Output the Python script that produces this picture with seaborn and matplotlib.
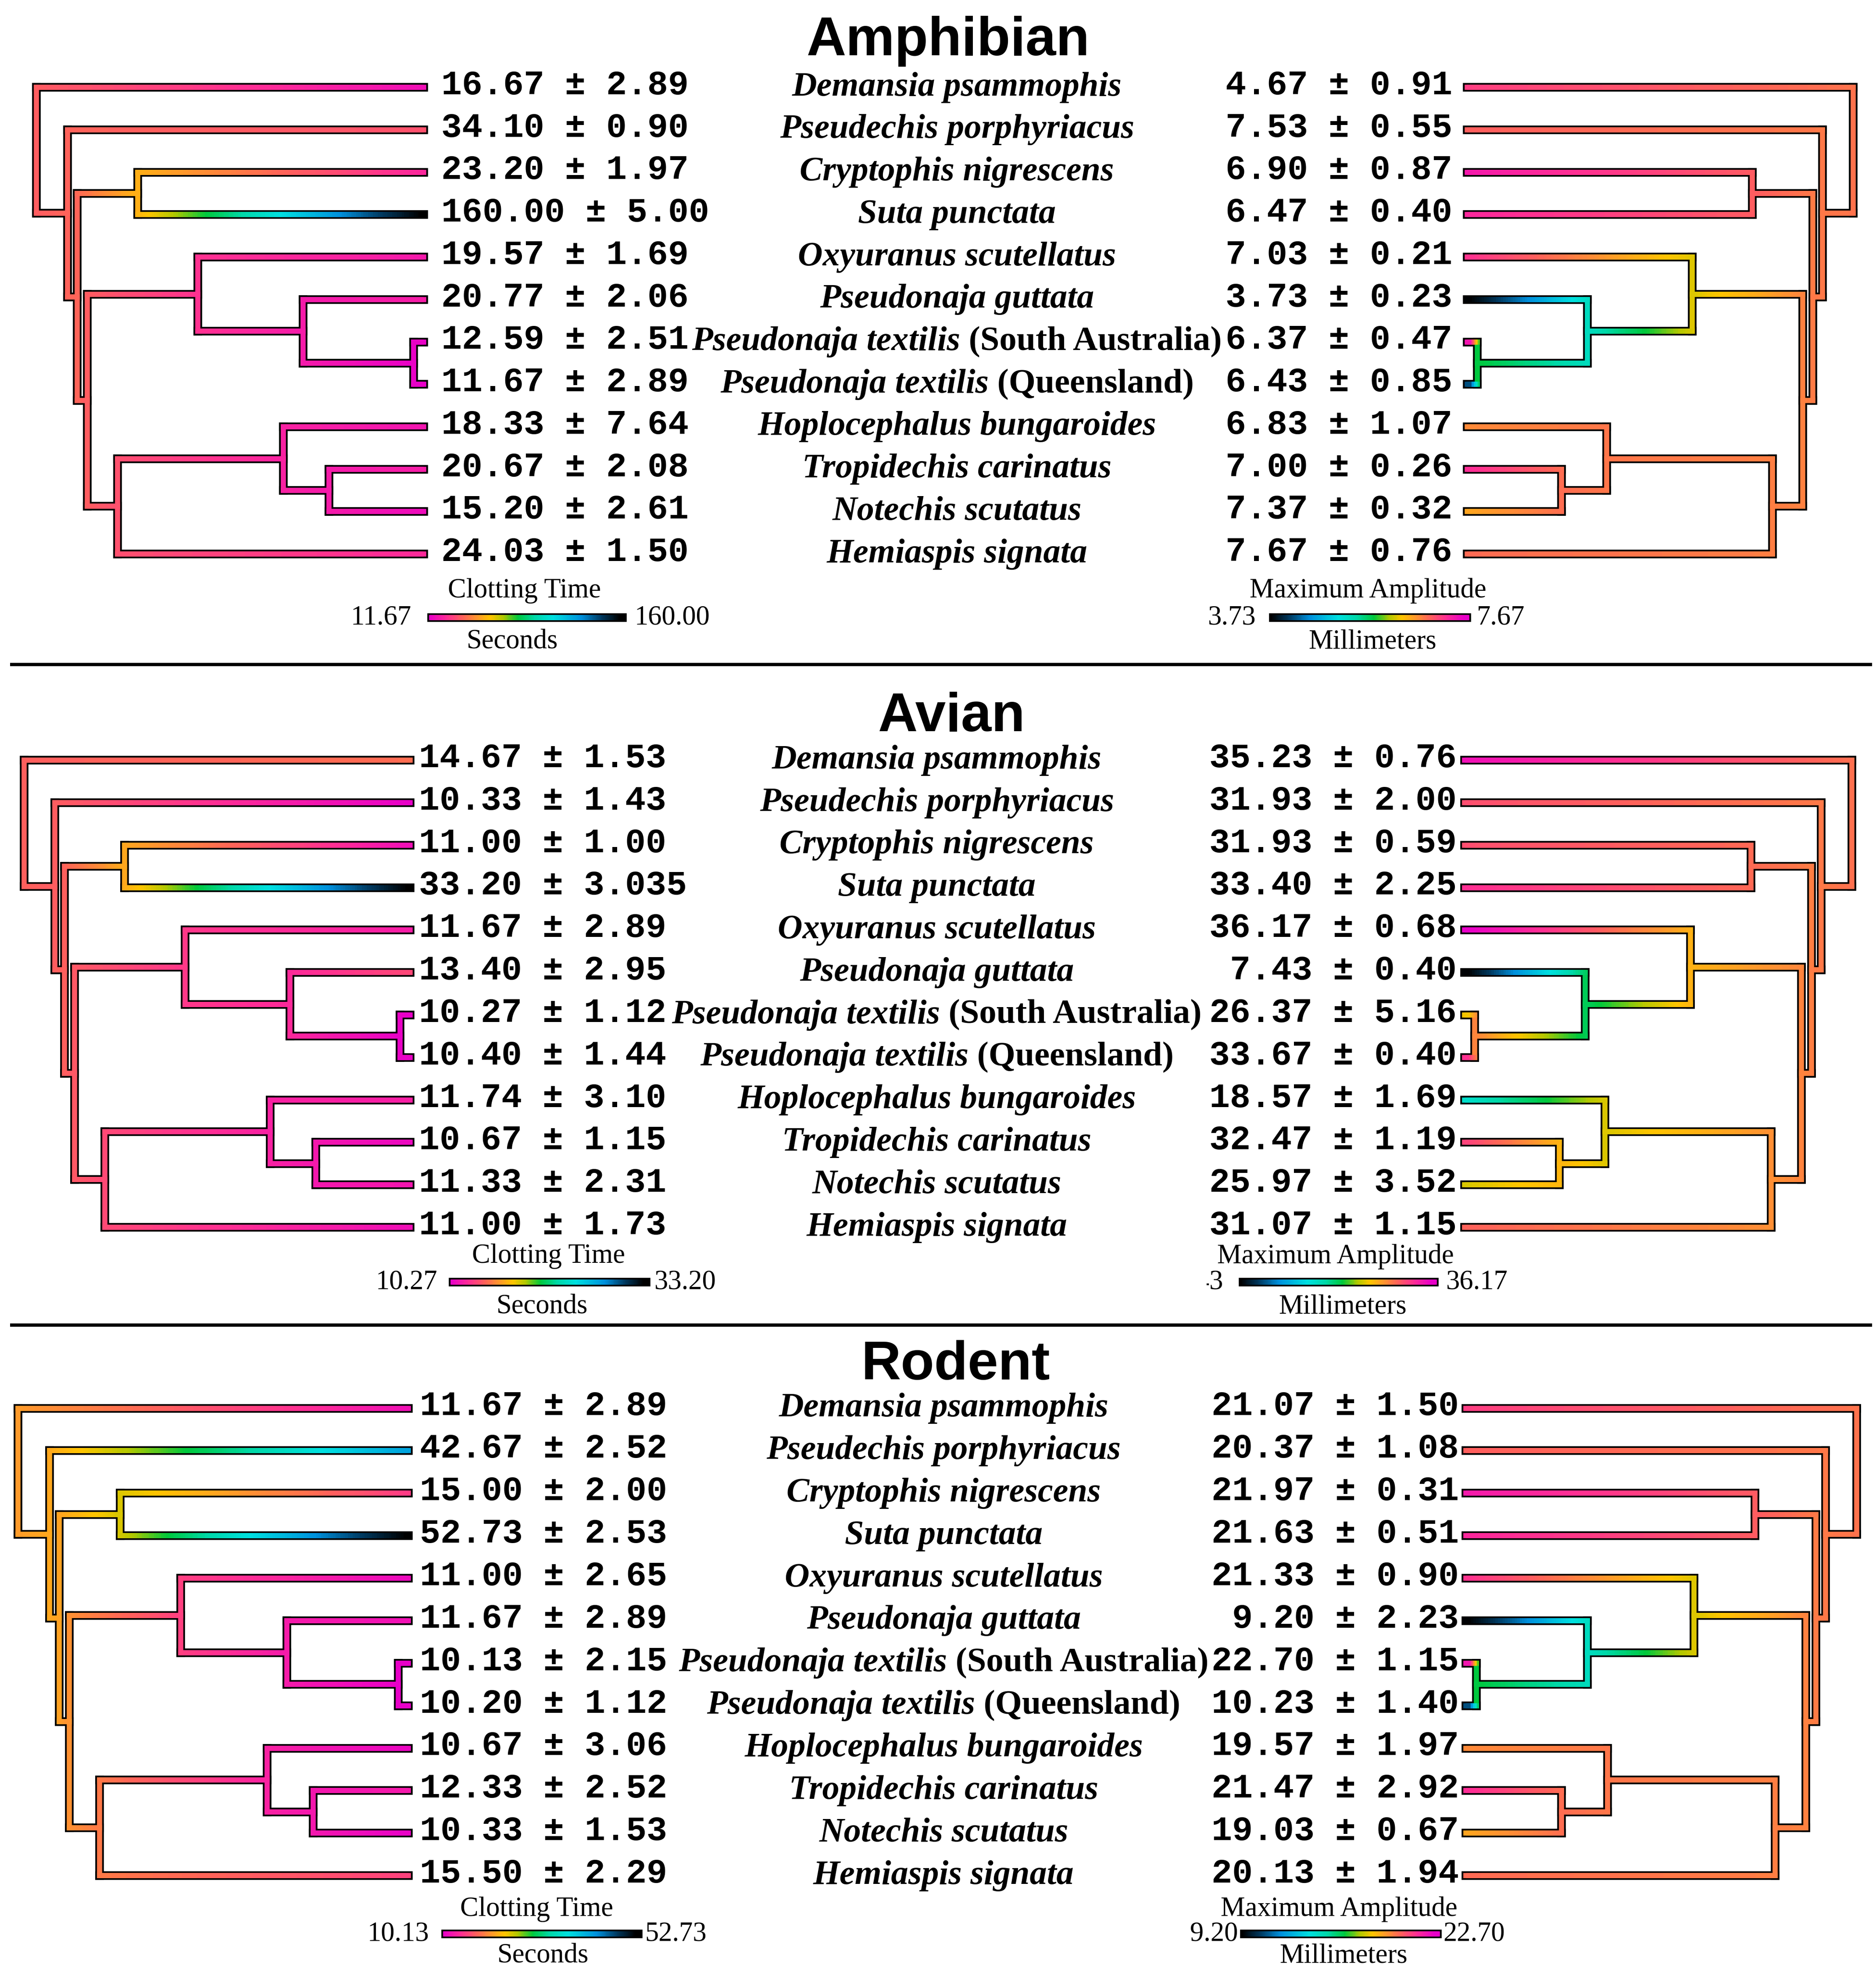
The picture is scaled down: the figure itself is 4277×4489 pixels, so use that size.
import numpy as np
import pandas as pd
import matplotlib
matplotlib.use("Agg")
import matplotlib.pyplot as plt
import seaborn as sns
from matplotlib.collections import LineCollection
from matplotlib.colors import LinearSegmentedColormap
from matplotlib.offsetbox import TextArea, HPacker, AnnotationBbox
from matplotlib.transforms import Bbox, TransformedBbox

# ---------------------------------------------------------------- data
species = ["Demansia psammophis", "Pseudechis porphyriacus", "Cryptophis nigrescens",
           "Suta punctata", "Oxyuranus scutellatus", "Pseudonaja guttata",
           "Pseudonaja textilis (South Australia)", "Pseudonaja textilis (Queensland)",
           "Hoplocephalus bungaroides", "Tropidechis carinatus", "Notechis scutatus",
           "Hemiaspis signata"]

# tree: internal nodes 12..22 (children pairs) and their relative ages (root = 1)
node_children = [(0, 13), (1, 14), (15, 16), (2, 3), (17, 20), (4, 18),
                 (5, 19), (6, 7), (21, 11), (8, 22), (9, 10)]
node_age = [1.000, 0.920, 0.895, 0.739, 0.869, 0.583, 0.311, 0.026, 0.791, 0.362, 0.244]

amph_ct_mean = [16.67, 34.10, 23.20, 160.00, 19.57, 20.77, 12.59, 11.67, 18.33, 20.67, 15.20, 24.03]
amph_ct_sd = [2.89, 0.90, 1.97, 5.00, 1.69, 2.06, 2.51, 2.89, 7.64, 2.08, 2.61, 1.50]
amph_ma_mean = [4.67, 7.53, 6.90, 6.47, 7.03, 3.73, 6.37, 6.43, 6.83, 7.00, 7.37, 7.67]
amph_ma_sd = [0.91, 0.55, 0.87, 0.40, 0.21, 0.23, 0.47, 0.85, 1.07, 0.26, 0.32, 0.76]

avian_ct_mean = [14.67, 10.33, 11.00, 33.20, 11.67, 13.40, 10.27, 10.40, 11.74, 10.67, 11.33, 11.00]
avian_ct_sd = [1.53, 1.43, 1.00, 3.035, 2.89, 2.95, 1.12, 1.44, 3.10, 1.15, 2.31, 1.73]
avian_ma_mean = [35.23, 31.93, 31.93, 33.40, 36.17, 7.43, 26.37, 33.67, 18.57, 32.47, 25.97, 31.07]
avian_ma_sd = [0.76, 2.00, 0.59, 2.25, 0.68, 0.40, 5.16, 0.40, 1.69, 1.19, 3.52, 1.15]

rodent_ct_mean = [11.67, 42.67, 15.00, 52.73, 11.00, 11.67, 10.13, 10.20, 10.67, 12.33, 10.33, 15.50]
rodent_ct_sd = [2.89, 2.52, 2.00, 2.53, 2.65, 2.89, 2.15, 1.12, 3.06, 2.52, 1.53, 2.29]
rodent_ma_mean = [21.07, 20.37, 21.97, 21.63, 21.33, 9.20, 22.70, 10.23, 19.57, 21.47, 19.03, 20.13]
rodent_ma_sd = [1.50, 1.08, 0.31, 0.51, 0.90, 2.23, 1.15, 1.40, 1.97, 2.92, 0.67, 1.94]

panel_titles = ["Amphibian", "Avian", "Rodent"]
ct_title, ct_unit = "Clotting Time", "Seconds"
ma_title, ma_unit = "Maximum Amplitude", "Millimeters"

# ---------------------------------------------------------------- style
sns.set_theme(style="white")
plt.rcParams["font.family"] = ["DejaVu Sans"]
plt.rcParams["text.color"] = "black"
MONO, SERIF, SANS = "Liberation Mono", "Liberation Serif", "Liberation Sans"

cmap_ct = LinearSegmentedColormap.from_list("ct", [
    (0.00, "#e800c8"), (0.095, "#ff2f92"), (0.18, "#ff6458"), (0.255, "#ff9a2a"),
    (0.32, "#ffc400"), (0.385, "#b4c800"), (0.465, "#00c83c"), (0.555, "#00d8a8"),
    (0.65, "#00e0e0"), (0.80, "#0090dc"), (0.90, "#003c64"), (1.00, "#000000")])
cmap_ma = cmap_ct.reversed()

W = 1488.0
H = 4489 * W / 4277
PT = 72.0 * (4277 / W) / 300.0        # points per layout pixel
LW_OUT, LW_IN = 4.7, 2.8

fig = plt.figure(figsize=(4277 / 300, 4489 / 300), dpi=300)
bg = fig.add_axes([0, 0, 1, 1])
bg.set_xlim(0, W)
bg.set_ylim(H, 0)
bg.axis("off")


def fx(x):
    return x / W


def fy(y):
    return 1 - y / H


def pm(m, s):
    sd = f"{s:.3f}".rstrip("0")
    if len(sd.split(".")[1]) < 2:
        sd = f"{s:.2f}"
    return f"{m:.2f} \u00b1 {sd}"


def anc_states(tips):
    """Brownian-motion ancestral states (as in phytools contMap)."""
    age = np.zeros(23)
    age[12:] = node_age
    A = np.zeros((11, 11))
    b = np.zeros(11)
    for k, ch in enumerate(node_children):
        p = 12 + k
        for c in ch:
            w = 1.0 / (age[p] - age[c])
            A[k, k] += w
            if c >= 12:
                A[k, c - 12] -= w
                A[c - 12, c - 12] += w
                A[c - 12, k] -= w
            else:
                b[k] += w * tips[c]
    return np.concatenate([np.asarray(tips, float), np.linalg.solve(A, b)])


def seg_frame(segs):
    rows = []
    for k, (p0, p1, v) in enumerate(segs):
        rows.append((k, p0[0], p0[1], v))
        rows.append((k, p1[0], p1[1], v))
    return pd.DataFrame(rows, columns=["seg", "x", "y", "val"])


def draw_tree(rect, tips, cmap, mirrored):
    ax = fig.add_axes(rect)
    states = anc_states(tips)
    lo, hi = min(tips), max(tips)
    s = (states - lo) / (hi - lo)
    age = np.zeros(23)
    age[12:] = node_age
    ypos = np.zeros(23)
    ypos[:12] = np.arange(12)
    for k in range(10, -1, -1):
        c1, c2 = node_children[k]
        ypos[12 + k] = (ypos[c1] + ypos[c2]) / 2
    verts, hors = [], []
    for k, (c1, c2) in enumerate(node_children):
        p = 12 + k
        verts.append(((age[p], ypos[c1]), (age[p], ypos[c2]), s[p]))
        for c in (c1, c2):
            hors.append((p, c))
    outline = [(a, b, 0) for a, b, _ in verts] + \
              [((age[p], ypos[c]), (age[c], ypos[c]), 0) for p, c in hors]
    sns.lineplot(data=seg_frame(outline), x="x", y="y", units="seg", estimator=None,
                 sort=False, color="black", linewidth=LW_OUT, solid_capstyle="projecting",
                 ax=ax, legend=False, zorder=1)
    sns.lineplot(data=seg_frame(verts), x="x", y="y", units="seg", hue="val",
                 palette=cmap, hue_norm=(0, 1), estimator=None, sort=False,
                 linewidth=LW_IN, solid_capstyle="projecting", ax=ax, legend=False, zorder=2)
    segs, cols = [], []
    for p, c in hors:
        L = age[p] - age[c]
        n = max(3, int(np.ceil(L * 160)))
        t = np.linspace(0, 1, n + 1)
        xs = age[p] + (age[c] - age[p]) * t
        tm = (t[:-1] + t[1:]) / 2
        vals = s[p] + (s[c] - s[p]) * tm
        for i in range(n):
            segs.append([(xs[i], ypos[c]), (xs[i + 1], ypos[c])])
            cols.append(cmap(np.clip(vals[i], 0, 1)))
    ax.add_collection(LineCollection(segs, colors=cols, linewidths=LW_IN,
                                     capstyle="projecting", zorder=3))
    for art in ax.get_children():
        try:
            art.set_clip_on(False)
        except Exception:
            pass
    ax.set_xlim((0, 1) if mirrored else (1, 0))
    ax.set_ylim(11, 0)
    ax.axis("off")


def draw_bar(x1, x2, yb, lo, hi, cmap, title, tpos, unit, upos, lo_r, hi_l, clip=None):
    half = LW_OUT / 2 / PT
    ax = fig.add_axes([fx(x1 + half), fy(yb) - 0.001, (x2 - x1 - 2 * half) / W, 0.002])
    ax.set_xlim(lo, hi)
    ax.set_ylim(-1, 1)
    ax.axis("off")
    ax.plot([lo, hi], [0, 0], color="black", lw=LW_OUT, solid_capstyle="projecting",
            clip_on=False)
    xs = np.linspace(lo, hi, 241)
    mids = (xs[:-1] + xs[1:]) / 2
    segs = [[(xs[i], 0), (xs[i + 1], 0)] for i in range(240)]
    lc = LineCollection(segs, colors=cmap((mids - lo) / (hi - lo)), linewidths=LW_IN,
                        capstyle="projecting")
    lc.set_clip_on(False)
    ax.add_collection(lc)
    tk = dict(fontfamily=SERIF, fontsize=15, color="black")
    bg.text(tpos[0], tpos[1], title, ha="center", va="center", **tk)
    bg.text(upos[0], upos[1], unit, ha="center", va="center", **tk)
    t_lo = bg.text(lo_r, yb, f"{lo:.2f}", ha="right", va="center", **tk)
    bg.text(hi_l, yb, f"{hi:.2f}", ha="left", va="center", **tk)
    if clip is not None:
        cb = TransformedBbox(Bbox([[clip, yb - 30], [lo_r + 5, yb + 30]]), bg.transData)
        t_lo.set_clip_box(cb)
        t_lo.set_clip_on(True)


def species_box(name):
    if " (" in name:
        ital, rest = name.split(" (", 1)
        rest = " (" + rest
    else:
        ital, rest = name, ""
    kids = [TextArea(ital, textprops=dict(fontfamily=SERIF, fontweight="bold",
                                          fontstyle="italic", fontsize=18.8, color="black"))]
    if rest:
        kids.append(TextArea(rest, textprops=dict(fontfamily=SERIF, fontweight="bold",
                                                  fontsize=18.8, color="black")))
    return HPacker(children=kids, align="baseline", pad=0, sep=0)


layouts = [
    dict(title_x=752, title_y=44, row0=69.3, step=33.65, lt=(29, 338), rt=(1161.6, 1470),
         lval=350, spx=759, rval=1152,
         lbar=(339, 497.1, 490), lbt=(415.9, 468.5), lbu=(406.5, 509), lblo=326.3, lbhi=503.4,
         rbar=(1006.5, 1166.8, 490), rbt=(1085.1, 468.5), rbu=(1088.5, 509), rblo=996.1,
         rbhi=1171.5, clip=None),
    dict(title_x=755, title_y=580, row0=603, step=33.68, lt=(19, 327.4), rt=(1159.7, 1469),
         lval=332.2, spx=743, rval=1155.5,
         lbar=(356, 516, 1017), lbt=(435, 996.5), lbu=(430, 1036.5), lblo=347, lbhi=519,
         rbar=(982.5, 1140.9, 1017), rbt=(1059.3, 996.5), rbu=(1065, 1036.5), rblo=970.6,
         rbhi=1147, clip=957.0),
    dict(title_x=758, title_y=1094, row0=1117, step=33.7, lt=(14.4, 326), rt=(1160.8, 1472.8),
         lval=333, spx=748.5, rval=1157,
         lbar=(349.9, 509.6, 1534), lbt=(425.7, 1514.5), lbu=(430.6, 1551.5), lblo=340.5,
         lbhi=511.4,
         rbar=(983.7, 1143.4, 1534), rbt=(1062, 1514.5), rbu=(1065.7, 1551.5), rblo=981.8,
         rbhi=1144.6, clip=None),
]

ct_means = [amph_ct_mean, avian_ct_mean, rodent_ct_mean]
ct_sds = [amph_ct_sd, avian_ct_sd, rodent_ct_sd]
ma_means = [amph_ma_mean, avian_ma_mean, rodent_ma_mean]
ma_sds = [amph_ma_sd, avian_ma_sd, rodent_ma_sd]
# in the published figure the amphibian amplitude tree carries the rodent colouring
ma_colour_source = [rodent_ma_mean, avian_ma_mean, rodent_ma_mean]

inner_half = LW_IN / 2 / PT
for i, lay in enumerate(layouts):
    bg.text(lay["title_x"], lay["title_y"], panel_titles[i], ha="center", va="baseline",
            fontsize=30, fontweight="bold", fontfamily=SANS, color="black")
    y_top = lay["row0"]
    y_bot = lay["row0"] + 11 * lay["step"]
    hgt = (y_bot - y_top) / H
    # left tree
    r0, t0 = lay["lt"][0], lay["lt"][1] - inner_half
    draw_tree([fx(r0), fy(y_bot), (t0 - r0) / W, hgt], ct_means[i], cmap_ct, False)
    # right tree
    t1, r1 = lay["rt"][0] + inner_half, lay["rt"][1]
    draw_tree([fx(t1), fy(y_bot), (r1 - t1) / W, hgt], ma_colour_source[i], cmap_ma, True)
    for j in range(12):
        yy = lay["row0"] + j * lay["step"]
        bg.text(lay["lval"], yy - 1.5, pm(ct_means[i][j], ct_sds[i][j]), ha="left",
                va="center", fontfamily=MONO, fontweight="bold", fontsize=18.8, color="black")
        bg.text(lay["rval"], yy - 1.5, pm(ma_means[i][j], ma_sds[i][j]), ha="right",
                va="center", fontfamily=MONO, fontweight="bold", fontsize=18.8, color="black")
        ab = AnnotationBbox(species_box(species[j]), (lay["spx"], yy), xycoords="data",
                            frameon=False, box_alignment=(0.5, 0.5), pad=0,
                            annotation_clip=False)
        bg.add_artist(ab)
    x1, x2, yb = lay["lbar"]
    draw_bar(x1, x2, yb, min(ct_means[i]), max(ct_means[i]), cmap_ct, ct_title, lay["lbt"],
             ct_unit, lay["lbu"], lay["lblo"], lay["lbhi"])
    x1, x2, yb = lay["rbar"]
    draw_bar(x1, x2, yb, min(ma_means[i]), max(ma_means[i]), cmap_ma, ma_title, lay["rbt"],
             ma_unit, lay["rbu"], lay["rblo"], lay["rbhi"], clip=lay["clip"])

for ysep in (527, 1051):
    bg.plot([8, 1485], [ysep, ysep], color="black", lw=1.8, solid_capstyle="butt")

fig.savefig("out.png", dpi=300)
